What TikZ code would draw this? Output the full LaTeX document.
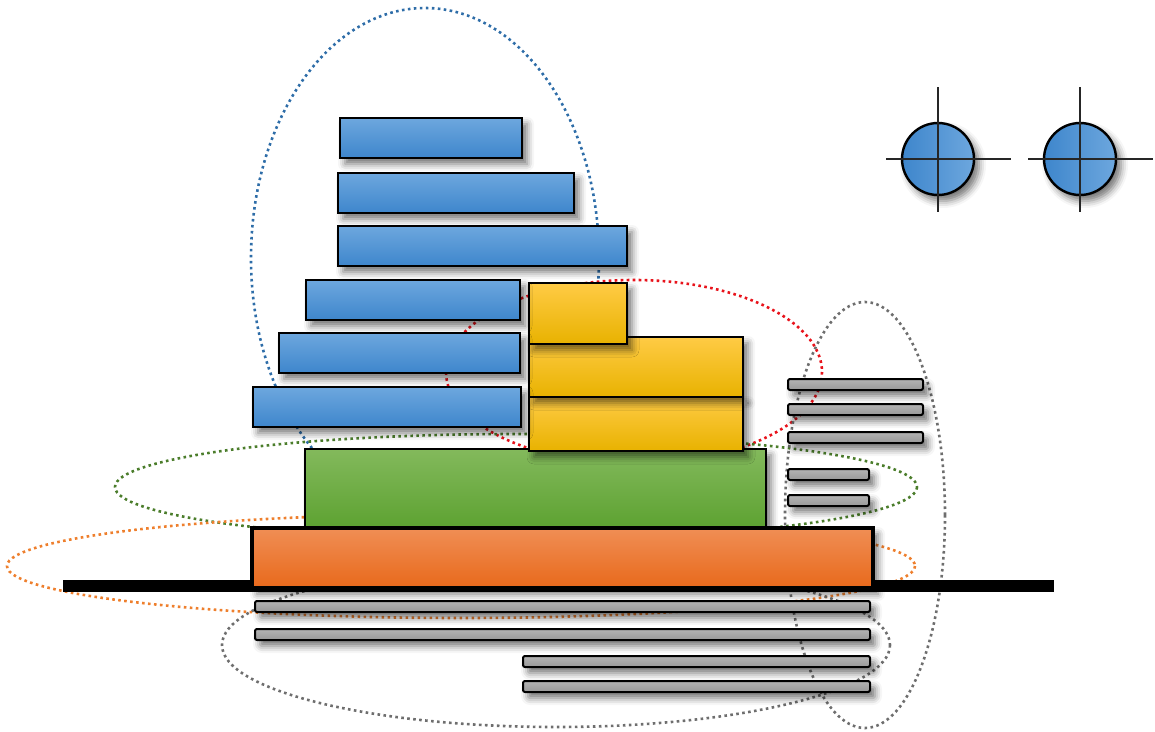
\documentclass[tikz,border=0pt]{standalone}
\usepackage{xcolor}
\usepackage{tikz}
\usetikzlibrary{shadows.blur}
\definecolor{BlueTop}{HTML}{6DA7DE}
\definecolor{BlueBot}{HTML}{3E86CC}
\definecolor{GoldTop}{HTML}{FFCB45}
\definecolor{GoldMid}{HTML}{FFC600}
\definecolor{GoldBot}{HTML}{E8B200}
\definecolor{LeafTop}{HTML}{83B95C}
\definecolor{LeafBot}{HTML}{5DA231}
\definecolor{RustTop}{HTML}{F08E55}
\definecolor{RustBot}{HTML}{E8691B}
\definecolor{SlateTop}{HTML}{B4B4B4}
\definecolor{SlateBot}{HTML}{989898}
\definecolor{RingBlue}{HTML}{2E6DA8}
\definecolor{RingRed}{HTML}{E8131B}
\definecolor{RingGreen}{HTML}{4B7D2B}
\definecolor{RingOrange}{HTML}{EE7F2D}
\definecolor{RingGray}{HTML}{6E6E6E}

\begin{document}
\begin{tikzpicture}[x=1pt, y=-1pt,
          bar/.style={rectangle, draw=black, line width=2.4pt, anchor=north west,
                      inner sep=0pt, outer sep=0pt,
                      blur shadow={shadow xshift=5pt, shadow yshift=-6pt,
                                   shadow blur radius=7pt, shadow opacity=55}},
          bluebar/.style={bar, top color=BlueTop, bottom color=BlueBot, minimum height=40pt},
          goldbar/.style={bar, top color=GoldTop, middle color=GoldMid, bottom color=GoldBot},
          slatebar/.style={bar, line width=2pt, rounded corners=2pt, minimum height=11pt,
                           top color=SlateTop, bottom color=SlateBot},
          ball/.style={circle, draw=black, line width=2.4pt, minimum size=72pt, inner sep=0pt,
                       left color=BlueBot, right color=BlueTop,
                       blur shadow={shadow xshift=5pt, shadow yshift=-6pt,
                                    shadow blur radius=7pt, shadow opacity=55}},
          halo/.style={line width=2.6pt, dash pattern=on 2.6pt off 3.4pt},
          cross/.style={line width=1.4pt, black!85}
        ]
        \useasboundingbox (0,0) rectangle (1155,731);

        % dotted groupings (behind everything)
        \draw[halo, RingBlue]   (425,258) ellipse [x radius=174, y radius=250];
        \draw[halo, RingRed]    (634,372) ellipse [x radius=188, y radius=92];
        \draw[halo, RingGreen]  (516,487) ellipse [x radius=401, y radius=53];
        \draw[halo, RingOrange] (461,566) ellipse [x radius=454, y radius=52];
        \draw[halo, RingGray]   (865,515) ellipse [x radius=80, y radius=213];
        \draw[halo, RingGray]   (556,645) ellipse [x radius=334, y radius=82];

        % ground line
        \draw[line width=12pt] (63,586) -- (1054,586);

        % small grey bars
        \foreach \i/\x/\y/\w in {1/788/379/135, 2/788/404/135, 3/788/432/135,
                                 4/788/469/81, 5/788/495/81,
                                 6/255/601/615, 7/255/629/615,
                                 8/523/656/347, 9/523/681/347} {
          \node[slatebar, minimum width=\w pt] (slate\i) at (\x,\y) {};
        }

        % base blocks
        \node[bar, top color=LeafTop, bottom color=LeafBot,
              minimum width=461pt, minimum height=79pt] (leaf) at (305,449) {};
        \node[bar, line width=4pt, top color=RustTop, bottom color=RustBot,
              minimum width=621pt, minimum height=60pt] (rust) at (252,528) {};

        % gold stack
        \node[goldbar, minimum width=214pt, minimum height=54pt] (gold3) at (529,397) {};
        \node[goldbar, minimum width=214pt, minimum height=60pt] (gold2) at (529,337) {};
        \node[goldbar, minimum width=98pt, minimum height=61pt] (gold1) at (529,283) {};

        % blue staircase
        \foreach \i/\x/\y/\w in {1/340/118/182, 2/338/173/236, 3/338/226/289,
                                 4/306/280/214, 5/279/333/241, 6/253/387/268} {
          \node[bluebar, minimum width=\w pt] (blue\i) at (\x,\y) {};
        }

        % targets
        \node[ball] (c1) at (938,159) {};
        \node[ball] (c2) at (1080,159) {};
        \foreach \c in {c1,c2} {
          \draw[cross] ([xshift=-52pt]\c.center) -- ([xshift=73pt]\c.center);
          \draw[cross] ([yshift=72pt]\c.center) -- ([yshift=-53pt]\c.center);
        }
      \end{tikzpicture}
\end{document}
